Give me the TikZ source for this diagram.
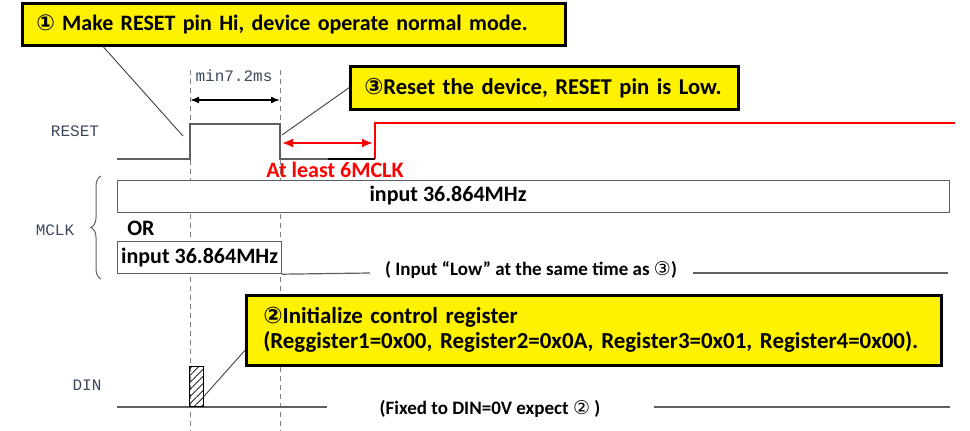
\documentclass[tikz,border=0pt]{standalone}
\usepackage{fontspec}
\setmainfont{Carlito}
\newfontfamily\circfont{DejaVu Sans}
\newfontfamily\pinfont{Liberation Mono}
\usetikzlibrary{arrows.meta,patterns.meta,decorations.pathreplacing}
\definecolor{pingray}{RGB}{60,72,92}
\definecolor{wiregray}{RGB}{95,95,95}
\newcommand{\cnum}[1]{{\circfont #1}}
\begin{document}
\begin{tikzpicture}[x=1pt,y=-1pt,
  notebox/.style={draw=black,line width=2.5pt,fill=yellow,inner xsep=14pt,inner ysep=0pt,
    align=left,anchor=north west,font=\bfseries\fontsize{22}{25}\selectfont},
  clkbox/.style={draw=wiregray,line width=1.2pt,fill=white,inner sep=0pt,anchor=north west},
  sigwire/.style={draw=wiregray,line width=1.2pt},
  pinlabel/.style={text=pingray,font=\pinfont\fontsize{16}{16}\selectfont},
  boldtxt/.style={font=\bfseries\fontsize{22}{22}\selectfont},
  smalltxt/.style={font=\bfseries\fontsize{19}{19}\selectfont},
  guide/.style={draw=gray,dashed,line width=1pt,dash pattern=on 5pt off 4pt},
  leader/.style={draw=black!75,line width=0.9pt}]
\useasboundingbox (0,0) rectangle (970,431);
% timing guides
\draw[guide] (190,70) -- (190,431);
\draw[guide] (280,70) -- (280,431);
\node[pinlabel] (tmin) at (234,76) {min7.2ms};
\draw[line width=1.5pt,{Latex[length=9pt,width=7pt]}-{Latex[length=9pt,width=7pt]}] (190,100) -- (280,100);
% RESET
\node[pinlabel] (rst) at (75,131) {RESET};
\draw[sigwire] (117,159) -- (190,159) -- (190,124) -- (280,124) -- (280,159) -- (375,159);
\draw[line width=2.5pt] (328,159) -- (375,159);
\draw[red,line width=2.5pt] (375,159) -- (375,123) -- (955,123);
\draw[red,line width=2pt,{Latex[length=11pt,width=9pt]}-{Latex[length=11pt,width=9pt]}] (282,143) -- (373,143);
\node[boldtxt,text=red] (six) at (335,170) {At least 6MCLK};
\coordinate (rise) at (183,136);
\coordinate (fall) at (282,135);
% MCLK
\node[pinlabel] (mclk) at (55,230) {MCLK};
\draw[wiregray,line width=1pt,decorate,decoration={brace,amplitude=10pt}] (101,279) -- (101,176);
\node[clkbox,minimum width=832,minimum height=32] (clka) at (117,180) {};
\node[boldtxt] at (448,196) {input 36.864MHz};
\node[boldtxt] (or) at (141,228) {OR};
\node[clkbox,minimum width=164,minimum height=32,boldtxt] (clkb) at (117,241) {input 36.864MHz};
\draw[sigwire] (clkb.south east) -- (370,273);
\node[smalltxt] (low) at (531,270) {( Input “Low” at the same time as {\circfont\mdseries ③})};
\draw[sigwire] (693,273) -- (948,273);
% DIN
\node[pinlabel] (din) at (87,385) {DIN};
\draw[sigwire] (117,407) -- (327,407);
\node[draw,line width=0.8pt,fill=white,pattern={Lines[angle=45,distance=5pt,line width=0.7pt]},
  minimum width=14,minimum height=40,inner sep=0pt,anchor=south west] (hatch) at (189,407) {};
\node[smalltxt] (fix) at (490,409) {(Fixed to DIN=0V expect {\circfont\mdseries ②} )};
\draw[sigwire] (654,407) -- (950,407);
% notes
\node[notebox,minimum height=42,text width=515] (box1) at (21,2)
  {\cnum{①} Make RESET pin Hi, device operate normal mode.};
\node[notebox,minimum height=43,text width=360,font=\bfseries\fontsize{22.6}{25}\selectfont] (box3) at (349,65)
  {\cnum{③}Reset the device, RESET pin is Low.};
\node[notebox,minimum height=70,text width=661,inner xsep=17pt,font=\bfseries\fontsize{22.9}{25}\selectfont] (box2) at (245,294)
  {\cnum{②}Initialize control register\\(Reggister1=0x00, Register2=0x0A, Register3=0x01, Register4=0x00).};
\draw[leader] ([xshift=82pt]box1.south west) -- (rise);
\draw[leader] (box3.west) -- (fall);
\draw[leader] ([yshift=-20pt]box2.west) -- ([yshift=-10pt]hatch.east);
\end{tikzpicture}
\end{document}
